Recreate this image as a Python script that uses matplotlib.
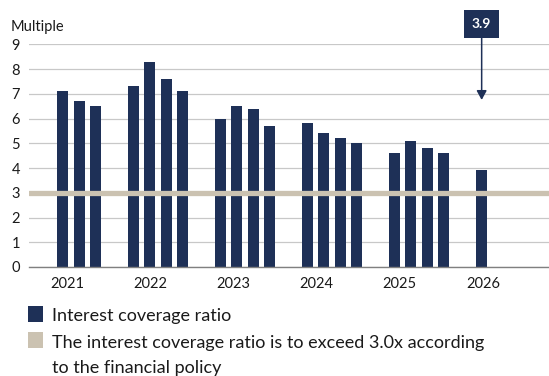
import matplotlib
matplotlib.use("Agg")
import matplotlib.pyplot as plt
from matplotlib.patches import Rectangle

plt.rcParams['font.family'] = ['Lato', 'DejaVu Sans']

# Interest coverage ratio per quarter
bar_years = [2021, 2021, 2021,
             2022, 2022, 2022, 2022,
             2023, 2023, 2023, 2023,
             2024, 2024, 2024, 2024,
             2025, 2025, 2025, 2025,
             2026]
bar_quarters = [2, 3, 4,
                1, 2, 3, 4,
                1, 2, 3, 4,
                1, 2, 3, 4,
                1, 2, 3, 4,
                1]
icr_values = [7.1, 6.7, 6.5,
              7.3, 8.3, 7.6, 7.1,
              6.0, 6.5, 6.4, 5.7,
              5.8, 5.4, 5.2, 5.0,
              4.6, 5.1, 4.8, 4.6,
              3.9]
year_labels = ['2021', '2022', '2023', '2024', '2025', '2026']
policy_floor = 3.0
y_ticks = list(range(0, 10))

legend_labels = [['Interest coverage ratio'],
                 ['The interest coverage ratio is to exceed 3.0x according',
                  'to the financial policy']]

NAVY = '#1e3057'
SAND = '#cbc2b1'
W, H = 549, 376

fig = plt.figure(figsize=(W / 100, H / 100), dpi=100)
ax = fig.add_axes([29 / W, 1 - 267 / H, 1 - 29 / W, (267 - 44.3) / H])

# layout of quarterly bars within each year block
first_year = bar_years[0]
year_offset = 0.203
quarter_step = 0.1874
bar_width = 0.127
xs = [(y - first_year) + year_offset + (q - 1) * quarter_step
      for y, q in zip(bar_years, bar_quarters)]

ax.bar(xs, icr_values, width=bar_width, color=NAVY, zorder=3)
ax.axhline(policy_floor, color=SAND, lw=3.8, zorder=4, solid_capstyle='round')

ax.set_xlim(0, (W - 29) / 87)
ax.set_ylim(0, 9)
ax.set_yticks(y_ticks)
ax.yaxis.grid(True, color='#c8c8c8', lw=0.9, zorder=0)
ax.set_axisbelow(True)

label_start, label_step = 0.437, 0.956
ax.set_xticks([label_start + i * label_step for i in range(len(year_labels))])
ax.set_xticklabels(year_labels)
ax.tick_params(axis='both', length=0, labelsize=10.5, colors='#1a1a1a')
ax.tick_params(axis='y', pad=6.5)
ax.tick_params(axis='x', pad=7)
for s in ['top', 'right', 'left']:
    ax.spines[s].set_visible(False)
ax.spines['bottom'].set_color('#808080')
ax.spines['bottom'].set_linewidth(1.0)
ax.spines['bottom'].set_zorder(5)

fig.text(11 / W, 1 - 31 / H, 'Multiple', fontsize=10.5, color='#1a1a1a', va='baseline')

# callout for the latest quarter
ax.annotate(f'{icr_values[-1]:.1f}', xy=(xs[-1], 6.75), xytext=(xs[-1], 9.82),
            textcoords='data', ha='center', va='center', color='white',
            fontsize=10, fontweight='bold', annotation_clip=False,
            bbox=dict(boxstyle='square,pad=0.55', fc=NAVY, ec='none'),
            arrowprops=dict(arrowstyle='-|>,head_length=0.55,head_width=0.3',
                            color=NAVY, lw=1.1, shrinkA=0, shrinkB=0))

# legend
swatches = [NAVY, SAND]
swatch_tops = [306, 332]
first_baselines = [321, 348.3]
line_gap = 25
for c, top, base, lines in zip(swatches, swatch_tops, first_baselines, legend_labels):
    fig.patches.append(Rectangle((28 / W, 1 - (top + 16) / H), 15 / W, 16 / H,
                                 transform=fig.transFigure, fc=c, ec='none'))
    for i, line in enumerate(lines):
        fig.text(52 / W, 1 - (base + i * line_gap) / H, line, fontsize=13,
                 color='#1a1a1a', va='baseline')

fig.savefig('out.png', dpi=100)
